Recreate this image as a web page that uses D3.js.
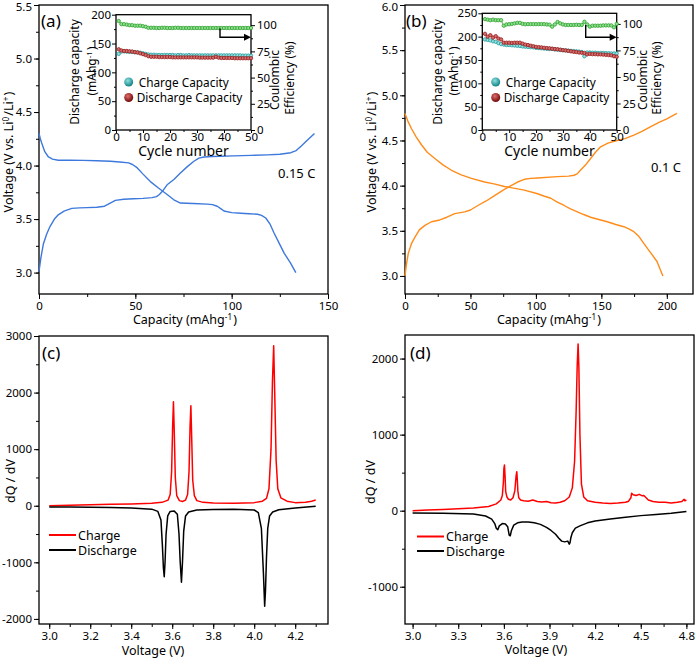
<!DOCTYPE html>
<html><head><meta charset="utf-8">
<script src="https://cdn.jsdelivr.net/npm/d3@7"></script>
<style>
body{margin:0;background:#fff;}
svg{font-family:"Noto Sans","Open Sans",sans-serif;}
.tick text{font-family:"Noto Sans","Open Sans",sans-serif;}
</style></head><body>
<script>
// ---------------- DATA ----------------
// (a) galvanostatic charge/discharge at 0.15 C
const aChargeCap = [0,1,2.3,4,5.7,8,10,13,17,21,25,30,34,36.5,39.6,44,49,54,58.7,61,62.5,64.5,66.5,70,73.4,77,80.4,83,85.6,90,101,110,118.6,125,130.7,133.5,136,139.5,143];
const aChargeV   = [3.01,3.14,3.27,3.36,3.43,3.50,3.54,3.575,3.60,3.605,3.607,3.61,3.62,3.645,3.675,3.685,3.69,3.693,3.70,3.71,3.73,3.77,3.82,3.87,3.93,3.99,4.04,4.07,4.08,4.085,4.09,4.095,4.10,4.105,4.12,4.14,4.18,4.24,4.30];
const aDisCap = [0,0.7,1.4,3,4.9,7,10,16,23,30,37,42,46.5,48.5,50.9,54,57.8,62,66.5,70,73.4,80,87.3,90,92.5,94.5,96,100,104.7,109,113.4,115.5,117.7,120,122,124.5,127.3,130.5,133.3];
const aDisV   = [4.30,4.25,4.21,4.13,4.08,4.06,4.05,4.05,4.048,4.045,4.04,4.033,4.025,4.01,3.98,3.92,3.85,3.79,3.73,3.68,3.65,3.645,3.64,3.635,3.62,3.595,3.575,3.56,3.555,3.55,3.545,3.535,3.51,3.45,3.37,3.28,3.18,3.09,3.0];
// (b) galvanostatic charge/discharge at 0.1 C
const bChargeCap = [0,1,2.5,5,7.6,11,15.2,20.3,26.6,32,38,45.6,50,55.7,62,68.4,75,81,86,91.2,96,101.3,116.5,125,129.2,131.5,134,138,141.8,145.5,149.4,155,162,168,174.8,181,187.4,194,200,207.7];
const bChargeV   = [3.0,3.12,3.25,3.36,3.43,3.51,3.56,3.60,3.62,3.65,3.69,3.71,3.73,3.78,3.83,3.89,3.95,4.00,4.04,4.07,4.08,4.085,4.10,4.105,4.115,4.13,4.17,4.23,4.30,4.37,4.43,4.47,4.50,4.52,4.56,4.60,4.65,4.70,4.74,4.80];
const bDisCap = [0,2,5,8.5,12.7,17,22.8,29,35.5,43,50.7,60.8,68,76,84,91.2,101.3,106,111.4,116,121.6,126,131.7,136.5,141.8,148,154.5,161,167.2,171,174.8,178.5,182.4,187,192.5,197];
const bDisV   = [4.80,4.72,4.63,4.54,4.45,4.37,4.30,4.23,4.17,4.12,4.08,4.04,4.02,3.99,3.97,3.95,3.91,3.885,3.86,3.82,3.78,3.745,3.71,3.68,3.65,3.625,3.60,3.57,3.545,3.52,3.49,3.44,3.36,3.27,3.16,3.0];
// (c) dQ/dV
const cChargeV = [3.00,3.10,3.20,3.30,3.40,3.50,3.55,3.58,3.59,3.597,3.602,3.606,3.610,3.615,3.622,3.635,3.65,3.665,3.675,3.682,3.687,3.691,3.695,3.700,3.708,3.72,3.75,3.80,3.90,4.00,4.04,4.06,4.072,4.082,4.089,4.095,4.100,4.107,4.115,4.13,4.16,4.20,4.25,4.28,4.30];
const cChargeQ = [0,10,18,25,32,45,60,100,200,600,1400,1837,1300,500,180,90,75,100,200,600,1400,1767,1200,450,180,90,60,48,42,55,80,130,300,1000,2200,2827,2000,800,300,140,80,55,60,80,100];
const cDisV = [3.00,3.10,3.20,3.30,3.40,3.50,3.53,3.545,3.552,3.557,3.561,3.565,3.570,3.578,3.59,3.61,3.625,3.633,3.639,3.645,3.650,3.656,3.665,3.68,3.72,3.80,3.90,4.00,4.02,4.035,4.045,4.051,4.055,4.060,4.066,4.075,4.09,4.12,4.20,4.30];
const cDisQ = [-20,-22,-25,-30,-40,-60,-100,-250,-700,-1100,-1254,-1000,-500,-180,-100,-95,-150,-500,-1000,-1353,-1000,-450,-180,-110,-75,-65,-60,-75,-120,-400,-1200,-1777,-1500,-900,-400,-180,-110,-70,-40,-10];
// (d) dQ/dV
const dChargeV = [3.00,3.10,3.20,3.30,3.40,3.50,3.55,3.58,3.59,3.597,3.600,3.604,3.608,3.612,3.62,3.63,3.645,3.66,3.672,3.680,3.685,3.688,3.692,3.698,3.71,3.73,3.76,3.79,3.82,3.85,3.88,3.91,3.94,3.97,4.00,4.03,4.05,4.065,4.075,4.082,4.088,4.093,4.100,4.11,4.125,4.15,4.20,4.25,4.30,4.35,4.40,4.42,4.435,4.44,4.45,4.47,4.49,4.51,4.52,4.535,4.55,4.58,4.62,4.66,4.70,4.74,4.77,4.785,4.79,4.80];
const dChargeQ = [0,8,15,25,35,55,90,140,200,380,550,601,450,250,180,150,140,170,260,450,513,420,260,170,140,130,125,140,120,115,120,105,100,110,130,180,300,650,1300,1900,2193,1900,1000,350,180,130,110,100,95,100,110,125,170,230,210,200,215,195,200,170,140,120,110,110,100,110,120,150,130,140];
const dDisV = [3.00,3.20,3.40,3.48,3.52,3.54,3.55,3.56,3.57,3.59,3.61,3.625,3.635,3.642,3.65,3.665,3.69,3.72,3.76,3.80,3.84,3.88,3.91,3.94,3.96,3.98,4.00,4.02,4.03,4.035,4.04,4.05,4.07,4.10,4.15,4.20,4.30,4.40,4.50,4.60,4.70,4.80];
const dDisQ = [-30,-35,-45,-70,-110,-170,-230,-250,-200,-170,-175,-210,-320,-330,-260,-190,-160,-150,-150,-160,-180,-220,-260,-310,-360,-400,-410,-400,-440,-420,-360,-290,-230,-200,-160,-135,-110,-85,-65,-50,-35,-10];
// insets: cycling (cycle 1..50)
const cycles = d3.range(1, 51);
const iaCharge = [132,136,136.5,136,135.5,135.5,135,134.5,134,133,132,131,130.5,130.5,130,130,130,130,130,130,130,129.5,130,130,129.5,129.5,130,129.5,129.5,129.5,129.5,129.5,129.5,129.5,129.5,129.5,129.5,129.5,129.5,129.5,129.5,129.5,129.5,129.5,129.5,129.5,129,129,129,129];
const iaDis    = [140,138,137,137,136.5,136,135,134.5,133,131.5,130,128,127,127,127,126.5,126.5,126.5,126.5,126.5,126,126,126,126,126,126,126,126,126,126,125.5,125.5,125.5,125.5,125.5,125.5,127,125.5,125,125,125,125,125,124.5,124.5,124.5,124.5,124.5,124.5,124.5];
const iaCE     = [104,101,101,100.5,100,100,99.5,99.5,99.5,99,98.5,97.5,97.5,97.5,97.3,97.3,97.5,97.5,97.3,97.3,97.3,97.5,97.5,97.3,97.3,97.3,97.3,97.3,97.3,97.3,97.3,97.3,97.3,97.3,97.3,97.3,97.3,97.3,97.3,97.3,97.3,97.3,97.3,97.3,97.3,97.3,97.3,97.3,97.3,97.3];
const ibCharge = [194,193,192,190,189,186,184,183,182,182,181.5,181,180.5,180,179,178.5,178,177.5,177,176,175.5,175,174.5,174,173.5,174,172.5,172,171.5,171,170.5,170,169.5,169,168.5,168,167,158,166,166,165.5,165.5,165,165,165,164.5,164.5,164,164,164];
const ibDis    = [206,200,203,198,201,196,194,187,187,187,186.5,187,187,187,185,183,182,180.5,179.5,178,177.5,177,176,175.5,175,174,173.5,173,172,171,170.5,169.5,168.5,167.5,167,166,165.5,165,162,163,162.5,162.5,162,162,161.5,161,160.5,160,158,157];
const ibCE     = [104.5,104,103.5,104,103.5,103.5,103.5,98.3,99.5,99.7,100,100.5,101,101,100,99.7,99.8,99.8,99.8,99.8,99.8,99.8,99.8,99.5,99.3,97.4,99.5,101.8,100.5,99.5,99,99,99,99,99.2,99,99,102,99.5,97.4,98.3,98.3,98.3,98.3,98.6,98.6,98.6,98.6,96.8,100];
// tick labels
const aXTicks = [0,50,100,150], aYTicks = [3.0,3.5,4.0,4.5,5.0,5.5];
const bXTicks = [0,50,100,150,200], bYTicks = [3.0,3.5,4.0,4.5,5.0,5.5,6.0];
const cXTicks = [3.0,3.2,3.4,3.6,3.8,4.0,4.2], cYTicks = [-2000,-1000,0,1000,2000,3000];
const dXTicks = [3.0,3.3,3.6,3.9,4.2,4.5,4.8], dYTicks = [-1000,0,1000,2000];
const iCycleTicks = [0,10,20,30,40,50], iaCapTicks = [0,50,100,150,200], ibCapTicks = [0,50,100,150,200,250], iCETicks = [0,25,50,75,100];

// ---------------- DRAW ----------------
const svg = d3.select("body").append("svg").attr("width",695).attr("height",660);
svg.append("rect").attr("width",695).attr("height",660).attr("fill","#fff");

function zip(xs, ys){ return xs.map((x,i)=>[x, ys[i]]); }
function minorVals(lo, hi, step){ const out=[]; for(let v=lo; v<=hi+1e-9; v+=step) out.push(+v.toFixed(6)); return out; }

function styleAxis(g, fs){
  g.select(".domain").remove();
  g.selectAll(".tick line").attr("stroke","#000").attr("stroke-width",1);
  g.selectAll(".tick text").attr("font-size",fs).attr("fill","#000");
}

function panel(o){
  const x = d3.scaleLinear().domain(o.xd).range([o.l,o.r]);
  const y = d3.scaleLinear().domain(o.yd).range([o.b,o.t]);
  const g = svg.append("g");
  const gxm = g.append("g").attr("transform",`translate(0,${o.b})`)
    .call(d3.axisBottom(x).tickValues(o.xMinor).tickSize(3).tickFormat(""));
  styleAxis(gxm, 0);
  const gym = g.append("g").attr("transform",`translate(${o.l},0)`)
    .call(d3.axisLeft(y).tickValues(o.yMinor).tickSize(3).tickFormat(""));
  styleAxis(gym, 0);
  const gx = g.append("g").attr("transform",`translate(0,${o.b})`)
    .call(d3.axisBottom(x).tickValues(o.xTicks).tickSize(5).tickPadding(3).tickFormat(o.xFmt));
  styleAxis(gx, o.fs);
  const gy = g.append("g").attr("transform",`translate(${o.l},0)`)
    .call(d3.axisLeft(y).tickValues(o.yTicks).tickSize(5).tickPadding(2).tickFormat(o.yFmt));
  styleAxis(gy, o.fs);
  gy.selectAll(".tick text").filter(d=>y(d)<8).attr("dy","0.5em");
  g.append("rect").attr("x",o.l).attr("y",o.t).attr("width",o.r-o.l).attr("height",o.b-o.t)
    .attr("fill","none").attr("stroke","#000").attr("stroke-width",1.3);
  const line = d3.line().x(d=>x(d[0])).y(d=>y(d[1]));
  o.series.forEach(s=>{
    g.append("path").datum(s.d).attr("d",line).attr("fill","none")
      .attr("stroke",s.c).attr("stroke-width",s.w||1.4).attr("stroke-linejoin","round");
  });
  return {x,y,g};
}

const blue = "#3d79dc", orange = "#ff8c1a";
const f1 = d3.format(".1f");
panel({l:39,r:328,t:5,b:294,xd:[0,150],yd:[2.8,5.5],
  xTicks:aXTicks,yTicks:aYTicks,xMinor:minorVals(0,150,25),yMinor:minorVals(3.0,5.5,0.25),
  xFmt:d3.format("d"),yFmt:f1,fs:11.5,
  series:[{d:zip(aChargeCap,aChargeV),c:blue},{d:zip(aDisCap,aDisV),c:blue}]});
panel({l:405,r:693,t:5,b:294,xd:[0,220],yd:[2.8,6.0],
  xTicks:bXTicks,yTicks:bYTicks,xMinor:minorVals(0,200,25),yMinor:minorVals(3.0,6.0,0.25),
  xFmt:d3.format("d"),yFmt:f1,fs:11.5,
  series:[{d:zip(bChargeCap,bChargeV),c:orange},{d:zip(bDisCap,bDisV),c:orange}]});
panel({l:39,r:328,t:336,b:624,xd:[2.95,4.36],yd:[-2090,3000],
  xTicks:cXTicks,yTicks:cYTicks,xMinor:minorVals(3.0,4.3,0.1),yMinor:minorVals(-2000,3000,500),
  xFmt:f1,yFmt:d=>String(d),fs:11.5,
  series:[{d:zip(cChargeV,cChargeQ),c:"#ff0000",w:1.5},{d:zip(cDisV,cDisQ),c:"#000",w:1.5}]});
panel({l:405,r:694,t:335,b:624,xd:[2.95,4.85],yd:[-1490,2310],
  xTicks:dXTicks,yTicks:dYTicks,xMinor:minorVals(3.0,4.8,0.15),yMinor:minorVals(-1000,2000,500),
  xFmt:f1,yFmt:d=>String(d),fs:11.5,
  series:[{d:zip(dChargeV,dChargeQ),c:"#ff0000",w:1.5},{d:zip(dDisV,dDisQ),c:"#000",w:1.5}]});

// ---- text helpers
function txt(x,y,s,fs,anchor,rot){
  const t = svg.append("text").attr("x",x).attr("y",y).attr("font-size",fs).attr("fill","#000")
    .attr("text-anchor",anchor||"start");
  if(rot) t.attr("transform",`rotate(-90,${x},${y})`);
  t.text(s); return t;
}
function supText(x,y,parts,fs,anchor,rot){
  const t = svg.append("text").attr("x",x).attr("y",y).attr("font-size",fs).attr("fill","#000")
    .attr("text-anchor",anchor||"middle");
  if(rot) t.attr("transform",`rotate(-90,${x},${y})`);
  parts.forEach(p=>{
    if(p.sup){ t.append("tspan").attr("dy",-4).attr("font-size",fs*0.65).text(p.s);
               t.append("tspan").attr("dy",4).text("\u200A"); }
    else t.append("tspan").text(p.s);
  });
  return t;
}

// axis titles
const vLabel = [{s:"Voltage (V vs. Li"},{s:"0",sup:1},{s:"/Li"},{s:"+",sup:1},{s:")"}];
supText(13,152,vLabel,12.5,"middle",true);
supText(376,152,vLabel,12.5,"middle",true);
const capLabel = [{s:"Capacity (mAhg"},{s:"-1",sup:1},{s:")"}];
supText(185,324,capLabel,12.5,"middle");
supText(549,324,capLabel,12.5,"middle");
txt(15,481,"dQ / dV",12.5,"middle",true);
txt(375,482,"dQ / dV",12.5,"middle",true);
txt(153,655,"Voltage (V)",12.5,"middle");
txt(536,654,"Voltage (V)",12.5,"middle");

// panel letters & rates
txt(41,27,"(a)",17); txt(406,27,"(b)",17);
txt(42,359,"(c)",17); txt(410,359,"(d)",17);
txt(278,178,"0.15 C",13); txt(651,172,"0.1 C",13);

// dQ/dV legends
function legend(x0,yC,yD){
  svg.append("line").attr("x1",x0).attr("x2",x0+27).attr("y1",yC).attr("y2",yC).attr("stroke","#ff0000").attr("stroke-width",2);
  txt(x0+29,yC+4.5,"Charge",12.5);
  svg.append("line").attr("x1",x0).attr("x2",x0+27).attr("y1",yD).attr("y2",yD).attr("stroke","#000").attr("stroke-width",2);
  txt(x0+29,yD+4.5,"Discharge",12.5);
}
legend(49,535,550);
legend(417,536.5,551);

// gradients for legend balls
const defs = svg.append("defs");
function grad(id,c1,c2){
  const gr = defs.append("radialGradient").attr("id",id).attr("cx","40%").attr("cy","35%").attr("r","60%");
  gr.append("stop").attr("offset","0%").attr("stop-color",c1);
  gr.append("stop").attr("offset","100%").attr("stop-color",c2);
}
grad("gTeal","#8fe0e0","#1c8a8a");
grad("gRed","#e07070","#7a0f0f");

// ---- insets
function inset(o){
  const x = d3.scaleLinear().domain([0,50]).range([o.l,o.r]);
  const y = d3.scaleLinear().domain(o.capD).range([o.b,o.t]);
  const y2 = d3.scaleLinear().domain([0,110]).range([o.b,o.t]);
  const g = svg.append("g");
  g.append("rect").attr("x",o.l).attr("y",o.t).attr("width",o.r-o.l).attr("height",o.b-o.t).attr("fill","#fff");
  const gx = g.append("g").attr("transform",`translate(0,${o.b})`)
    .call(d3.axisBottom(x).tickValues(iCycleTicks).tickSize(3).tickPadding(0));
  styleAxis(gx,11.5);
  const gxm = g.append("g").attr("transform",`translate(0,${o.b})`)
    .call(d3.axisBottom(x).tickValues(minorVals(5,45,10)).tickSize(2).tickFormat(""));
  styleAxis(gxm,0);
  const gy = g.append("g").attr("transform",`translate(${o.l},0)`)
    .call(d3.axisLeft(y).tickValues(o.capTicks).tickSize(4).tickPadding(1));
  styleAxis(gy,11.5);
  const gym = g.append("g").attr("transform",`translate(${o.l},0)`)
    .call(d3.axisLeft(y).tickValues(o.capMinor).tickSize(2).tickFormat(""));
  styleAxis(gym,0);
  const gy2 = g.append("g").attr("transform",`translate(${o.r},0)`)
    .call(d3.axisRight(y2).tickValues(iCETicks).tickSize(4).tickPadding(2));
  styleAxis(gy2,11.5);
  const gy2m = g.append("g").attr("transform",`translate(${o.r},0)`)
    .call(d3.axisRight(y2).tickValues(minorVals(12.5,100,25)).tickSize(2).tickFormat(""));
  styleAxis(gy2m,0);
  g.append("rect").attr("x",o.l).attr("y",o.t).attr("width",o.r-o.l).attr("height",o.b-o.t)
    .attr("fill","none").attr("stroke","#000").attr("stroke-width",1.3);
  const line = d3.line().x(d=>x(d[0])).y(d=>d[1]);
  function series(vals, sc, stroke, fill){
    const pts = cycles.map((c,i)=>[c, sc(vals[i])]);
    g.append("path").datum(pts).attr("d",line).attr("fill","none").attr("stroke",stroke).attr("stroke-width",0.8);
    g.selectAll(null).data(pts).enter().append("circle")
      .attr("cx",d=>x(d[0])).attr("cy",d=>d[1]).attr("r",1.7)
      .attr("fill",fill).attr("stroke",stroke).attr("stroke-width",0.8);
  }
  series(o.ce, y2, "#2ea02e", "#8fe08f");
  series(o.charge, y, "#1f9a9a", "#9be0e0");
  series(o.dis, y, "#9a1a1a", "#d07070");
  g.append("path").attr("d",`M${o.arX},${o.arY0} V${o.arY1} H${o.r-6}`)
    .attr("fill","none").attr("stroke","#000").attr("stroke-width",1.4);
  g.append("path").attr("d",`M${o.r-7},${o.arY1-3.5} L${o.r},${o.arY1} L${o.r-7},${o.arY1+3.5} Z`).attr("fill","#000");
  g.append("circle").attr("cx",o.lgX).attr("cy",82).attr("r",4.5).attr("fill","url(#gTeal)");
  g.append("circle").attr("cx",o.lgX).attr("cy",97.5).attr("r",4.5).attr("fill","url(#gRed)");
  txt(o.lgX+10,86.5,"Charge Capacity",11.8);
  txt(o.lgX+8,102,"Discharge Capacity",11.8);
  txt((o.l+o.r)/2,156,"Cycle number",14,"middle");
  txt(o.yl1,72,"Discharge capacity",12,"middle",true);
  supText(o.yl2,71,[{s:"(mAhg"},{s:"-1",sup:1},{s:")"}],12,"middle",true);
  txt(o.yr1,80,"Coulombic",12,"middle",true);
  txt(o.yr2,78,"Efficiency (%)",12,"middle",true);
}
inset({l:116,r:251,t:14.7,b:130,capD:[0,200],capTicks:iaCapTicks,capMinor:minorVals(25,175,50),
  charge:iaCharge,dis:iaDis,ce:iaCE,arX:220,arY0:28.5,arY1:37.3,lgX:128.7,
  yl1:79,yl2:96,yr1:279,yr2:294});
inset({l:482.3,r:616.7,t:13.3,b:130,capD:[0,250],capTicks:ibCapTicks,capMinor:minorVals(25,225,50),
  charge:ibCharge,dis:ibDis,ce:ibCE,arX:585.7,arY0:25,arY1:37.3,lgX:495.7,
  yl1:442,yl2:458,yr1:647,yr2:661});
</script>
</body></html>
